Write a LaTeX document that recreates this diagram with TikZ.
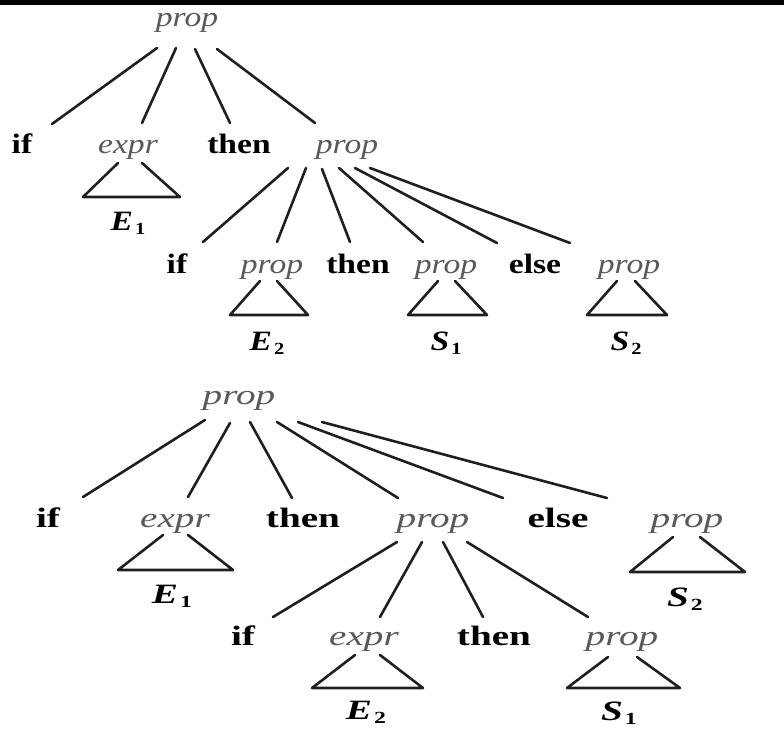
\documentclass[tikz,border=0pt]{standalone}
\usepackage{fontspec}
\setmainfont{Liberation Serif}
\newfontfamily\topfam{Liberation Serif}[FakeStretch=1.2]
\newfontfamily\botfam{Liberation Serif}[FakeStretch=1.4]
\usetikzlibrary{calc}
\newcommand\tsz{\topfam\fontsize{28}{30}\selectfont}
\newcommand\bsz{\botfam\fontsize{28}{30}\selectfont}
\newcommand\lbl[2]{{\bfseries\itshape #1}\kern2pt\raisebox{-4pt}{\fontsize{17}{17}\selectfont\bfseries #2}}
\tikzset{
  kw/.style={anchor=base, inner sep=0pt, outer sep=0pt, font=#1\bfseries, text=black},
  nt/.style={anchor=base, inner sep=0pt, outer sep=0pt, font=#1\itshape, text=black!65},
  lb/.style={anchor=base, inner sep=0pt, outer sep=0pt, font=#1, text=black},
  edge/.style={line width=2.6pt, draw=black!88, line cap=round},
  tri/.style={line width=2.6pt, draw=black!88, line cap=round, line join=round}
}
\begin{document}
\begin{tikzpicture}[x=1pt, y=-1pt]
\path[use as bounding box] (0,0) rectangle (784,728);
\fill[black] (0,0) rectangle (784,5);

% ---------------- top tree ----------------
\node[nt=\tsz] (tR) at (187,26) {prop};
\node[kw=\tsz] (tIf) at (22,153) {if};
\node[nt=\tsz] (tEx) at (128,153) {expr};
\node[kw=\tsz] (tTh) at (239,153) {then};
\node[nt=\tsz] (tP) at (347,153) {prop};
\node[lb=\tsz] (tE1) at (128,230) {\lbl{E}{1}};

\node[kw=\tsz] (tIf2) at (177,273) {if};
\node[nt=\tsz] (tP2) at (272,273) {prop};
\node[kw=\tsz] (tTh2) at (358,273) {then};
\node[nt=\tsz] (tP3) at (446,273) {prop};
\node[kw=\tsz] (tEl) at (535,273) {else};
\node[nt=\tsz] (tP4) at (629,273) {prop};
\node[lb=\tsz] (tE2) at (267,350) {\lbl{E}{2}};
\node[lb=\tsz] (tS1) at (446,350) {\lbl{S}{1}};
\node[lb=\tsz] (tS2) at (626,350) {\lbl{S}{2}};

\draw[edge] ($(tR.base)+(-30,22)$) -- ($(tIf.base)+(30,-29)$);
\draw[edge] ($(tR.base)+(-11,22)$) -- ($(tEx.base)+(14,-30)$);
\draw[edge] ($(tR.base)+(8,23)$) -- ($(tTh.base)+(-9,-30)$);
\draw[edge] ($(tR.base)+(30,23)$) -- ($(tP.base)+(-32,-30)$);

\draw[edge] ($(tP.base)+(-59,15)$) -- ($(tIf2.base)+(26,-31)$);
\draw[edge] ($(tP.base)+(-41,15)$) -- ($(tP2.base)+(5,-31)$);
\draw[edge] ($(tP.base)+(-25,16)$) -- ($(tTh2.base)+(-8,-31)$);
\draw[edge] ($(tP.base)+(-8,15)$) -- ($(tP3.base)+(-23,-31)$);
\draw[edge] ($(tP.base)+(8,15)$) -- ($(tEl.base)+(-38,-30)$);
\draw[edge] ($(tP.base)+(23,15)$) -- ($(tP4.base)+(-59,-30)$);

\draw[tri, shift={(tEx.base)}] (-10,10) -- (-45,44) -- (52,44) -- (14,10);
\draw[tri, shift={(tP2.base)}] (-12,8) -- (-42,42) -- (36,42) -- (5,8);
\draw[tri, shift={(tP3.base)}] (-8,8) -- (-38,42) -- (41,42) -- (9,8);
\draw[tri, shift={(tP4.base)}] (-12,8) -- (-42,42) -- (38,42) -- (6,8);

% ---------------- bottom tree ----------------
\node[nt=\bsz] (bR) at (239,404) {prop};
\node[kw=\bsz] (bIf) at (48,527) {if};
\node[nt=\bsz] (bEx) at (175,527) {expr};
\node[kw=\bsz] (bTh) at (303,527) {then};
\node[nt=\bsz] (bP) at (433,527) {prop};
\node[kw=\bsz] (bEl) at (558,527) {else};
\node[nt=\bsz] (bP2) at (687,527) {prop};
\node[lb=\bsz] (bE1) at (172,603) {\lbl{E}{1}};
\node[lb=\bsz] (bS2) at (685,606) {\lbl{S}{2}};

\node[kw=\bsz] (bIf2) at (243,645) {if};
\node[nt=\bsz] (bEx2) at (364,645) {expr};
\node[kw=\bsz] (bTh2) at (494,645) {then};
\node[nt=\bsz] (bP3) at (622,645) {prop};
\node[lb=\bsz] (bE2) at (366,719) {\lbl{E}{2}};
\node[lb=\bsz] (bS1) at (619,720) {\lbl{S}{1}};

\draw[edge] ($(bR.base)+(-34,16)$) -- ($(bIf.base)+(35,-30)$);
\draw[edge] ($(bR.base)+(-9,19)$) -- ($(bEx.base)+(13,-30)$);
\draw[edge] ($(bR.base)+(11,18)$) -- ($(bTh.base)+(-11,-29)$);
\draw[edge] ($(bR.base)+(38,18)$) -- ($(bP.base)+(-35,-29)$);
\draw[edge] ($(bR.base)+(59,18)$) -- ($(bEl.base)+(-55,-29)$);
\draw[edge] ($(bR.base)+(83,18)$) -- ($(bP2.base)+(-80,-29)$);

\draw[edge] ($(bP.base)+(-36,15)$) -- ($(bIf2.base)+(30,-28)$);
\draw[edge] ($(bP.base)+(-11,15)$) -- ($(bEx2.base)+(16,-28)$);
\draw[edge] ($(bP.base)+(10,15)$) -- ($(bTh2.base)+(-11,-28)$);
\draw[edge] ($(bP.base)+(34,15)$) -- ($(bP3.base)+(-34,-28)$);

\draw[tri, shift={(bEx.base)}] (-12,8) -- (-57,43) -- (58,43) -- (13,8);
\draw[tri, shift={(bP2.base)}] (-14,10) -- (-57,45) -- (58,45) -- (13,10);
\draw[tri, shift={(bEx2.base)}] (-9,10) -- (-52,43) -- (59,43) -- (16,10);
\draw[tri, shift={(bP3.base)}] (-14,12) -- (-55,43) -- (58,43) -- (15,12);
\end{tikzpicture}
\end{document}
